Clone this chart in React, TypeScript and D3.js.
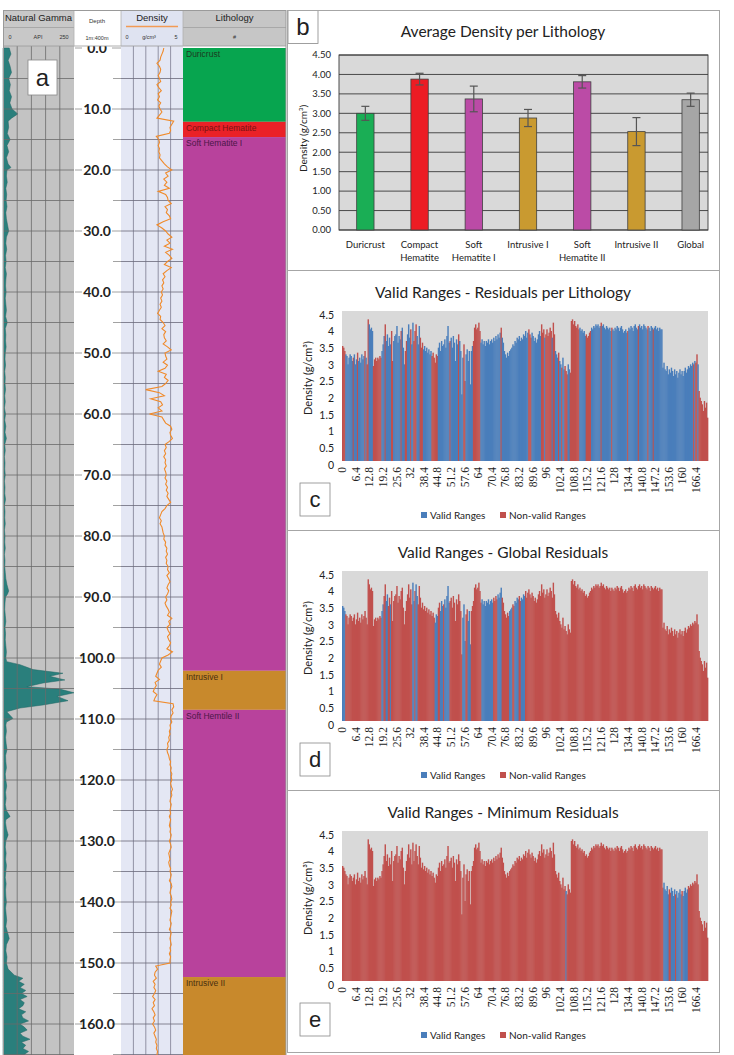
import React from "react";
import * as d3 from "d3";

const W = 734;
const H = 1055;

// ---------- Lithology ----------
const lithoNames = ["Duricrust", "Compact Hematite", "Soft Hematite I", "Intrusive I", "Soft Hemtile II", "Intrusive II"];
const lithoTop = [0, 12.1, 14.6, 102.1, 108.5, 152.3];
const lithoBase = [12.1, 14.6, 102.1, 108.5, 152.3, 166];
const lithoColors = ["#07a54f", "#ea2127", "#b8429c", "#c8892c", "#b8429c", "#c8892c"];
const lithoTextColors = ["#1d3b22", "#7a1212", "#4b1748", "#4a3010", "#4b1748", "#4a3010"];

// ---------- Density log, one value every 0.5 m from 0 m ----------
const densityStep = 0.5;
const densityValues = [
  3.45, 3.4, 3.3, 3.2, 3.15, 2.9, 3.1, 3.2, 3.15, 3.0,
  3.1, 3.2, 2.9, 3.05, 3.25, 3.0, 3.1, 2.95, 3.2, 3.05,
  3.15, 3.3, 3.1, 2.9, 4.25, 4.1, 3.95, 4.0, 3.9, 2.85,
  3.05, 3.1, 3.0, 3.1, 3.05, 3.15, 3.1, 3.3, 3.5, 3.75,
  4.1, 3.6, 3.8, 3.45, 3.7, 3.5, 3.9, 3.0, 3.6, 3.75,
  3.8, 4.05, 3.55, 3.75, 3.65, 3.9, 4.0, 3.4, 2.9, 3.3,
  3.6, 3.8, 4.1, 3.7, 3.95, 3.5, 4.15, 3.6, 3.9, 4.1,
  3.75, 3.5, 4.05, 3.7, 3.4, 3.55, 3.35, 3.45, 3.3, 3.4,
  3.25, 3.35, 3.2, 3.3, 3.15, 3.25, 3.1, 2.95, 3.2, 3.15,
  3.4, 3.55, 3.3, 3.6, 3.45, 3.5, 3.65, 3.4, 3.75, 4.05,
  3.55, 3.6, 3.7, 3.4, 3.75, 3.55, 3.0, 3.65, 3.5, 3.8,
  3.6, 3.3, 2.0, 3.1, 3.5, 2.4, 3.2, 3.35, 3.0, 3.3,
  2.3, 3.3, 3.45, 3.6, 4.0, 4.1, 3.95, 4.0, 4.15, 3.9,
  3.55, 3.65, 3.5, 3.6, 3.45, 3.6, 3.55, 3.65, 3.5, 3.6,
  3.65, 3.55, 3.7, 3.6, 3.75, 3.65, 3.8, 3.7, 3.85, 4.0,
  3.7, 3.55, 3.3, 3.2, 3.1, 3.25, 3.15, 3.3, 3.35, 3.4,
  3.5, 3.45, 3.6, 3.55, 3.7, 3.65, 3.75, 3.6, 3.7, 3.65,
  3.8, 3.75, 3.9, 3.7, 3.85, 3.95, 3.8, 3.7, 3.85, 3.75,
  3.6, 3.7, 3.55, 3.65, 3.8, 3.9, 3.75, 4.1, 3.85, 3.95,
  3.7, 3.8, 3.95, 3.75, 3.85, 4.0, 3.9, 3.7, 4.15, 3.8,
  3.3, 3.2, 3.1, 3.25, 3.0, 2.9, 2.8, 3.1, 2.75, 2.85,
  2.7, 2.6, 2.9, 2.75, 2.65, 4.2, 4.25, 4.1, 4.2, 4.05,
  4.0, 4.1, 3.95, 4.0, 3.9, 3.95, 3.85, 3.9, 3.75, 3.8,
  3.7, 3.75, 3.85, 3.9, 4.0, 3.95, 4.05, 4.0, 4.1, 4.05,
  4.1, 4.0, 4.05, 4.15, 4.05, 4.1, 4.0, 3.95, 4.05, 4.0,
  3.95, 4.0, 3.9, 4.0, 3.95, 3.9, 4.0, 3.95, 4.05, 4.0,
  3.9, 4.0, 4.05, 3.95, 3.85, 3.9, 3.95, 3.85, 3.9, 4.0,
  3.95, 4.05, 4.0, 3.9, 4.05, 4.1, 4.0, 3.95, 4.05, 4.1,
  4.0, 4.05, 3.95, 4.1, 4.05, 4.0, 3.95, 4.05, 4.0, 3.9,
  4.05, 4.0, 3.95, 4.0, 4.05, 3.95, 4.0, 3.9, 4.0, 3.95,
  3.95, 2.8, 2.95, 2.75, 2.7, 2.85, 2.6, 2.75, 2.65, 2.8,
  2.7, 2.55, 2.75, 2.6, 2.7, 2.5, 2.65, 2.75, 2.6, 2.7,
  2.55, 2.7, 2.8, 2.65, 2.75, 2.85, 2.8, 2.9, 2.85, 2.95,
  2.9, 3.0, 2.95, 3.2, 2.9, 2.1, 1.9, 1.8, 1.7, 1.5,
  1.8, 1.6, 1.75, 1.3,
];

// ---------- Natural gamma (depth m, API) ----------
const gammaDepth = [
  0, 1, 2, 3, 4, 5, 6, 7, 8, 9, 10, 10.8, 11.5, 12, 13, 14, 15, 16, 17, 18, 19, 19.6, 20,
  21, 22, 23, 24, 25, 26, 27, 28, 29, 30, 31, 32, 33, 34, 35, 36, 37, 38, 39, 40,
  41, 42, 43, 44, 45, 46, 47, 48, 49, 50, 51, 52, 53, 54, 55, 56, 57, 58, 59, 60,
  61, 62, 63, 64, 65, 66, 67, 68, 69, 70, 71, 72, 73, 74, 75, 76, 77, 78, 79, 80,
  81, 82, 83, 84, 85, 86, 87, 88, 89, 89.5, 90, 91, 92, 93, 94, 95, 96, 97, 98, 99, 100,
  100.6, 101.1, 101.9, 102.5, 103.0, 103.6, 104.1, 104.7, 105.1, 105.7, 106.3, 107.0, 107.7, 108.2, 108.8,
  109.9, 110.5, 111, 112, 113, 114, 115, 116, 117, 118, 119, 120, 121, 122, 123, 124, 125, 126, 126.5,
  127, 128, 129, 130, 131, 132, 133, 134, 135, 136, 137, 138, 139, 140, 141, 142, 143, 144, 145,
  146, 147, 148, 149, 150, 151, 152, 152.5, 153, 153.5, 154, 154.5, 155, 155.5, 156, 156.5, 157,
  157.5, 158, 158.5, 159, 159.5, 160, 160.5, 161, 161.5, 162, 162.5, 163, 163.5, 164, 164.5, 165, 166,
];
const gammaAPI = [
  22, 28, 18, 25, 30, 20, 26, 22, 30, 24, 32, 52, 30, 18, 20, 15, 25, 14, 20, 12, 18, 28, 14,
  12, 15, 10, 13, 11, 14, 10, 12, 16, 20, 12, 10, 13, 9, 11, 8, 12, 10, 9, 11,
  8, 10, 12, 9, 15, 8, 10, 9, 11, 8, 7, 9, 6, 8, 7, 9, 6, 8, 5, 9,
  6, 10, 7, 12, 6, 8, 5, 7, 6, 8, 5, 7, 6, 9, 5, 7, 6, 8, 5, 7,
  6, 8, 5, 7, 6, 8, 10, 14, 20, 16, 9, 7, 6, 8, 10, 7, 9, 8, 10, 12, 10,
  13, 60, 106, 211, 165, 218, 141, 84, 200, 250, 190, 229, 141, 60, 13,
  35, 12, 10, 12, 9, 11, 14, 9, 10, 12, 8, 10, 13, 9, 11, 8, 12, 25, 10,
  9, 12, 18, 10, 8, 11, 9, 12, 10, 8, 11, 9, 10, 12, 9, 11, 13, 10, 16,
  22, 12, 10, 14, 12, 18, 40, 70, 55, 75, 60, 80, 65, 85, 60, 75, 70,
  55, 80, 65, 70, 90, 60, 75, 85, 60, 70, 95, 65, 80, 70, 90, 75, 70,
];

// ---------- Panel b: average density per lithology ----------
const barCategories = [["Duricrust"], ["Compact", "Hematite"], ["Soft", "Hematite I"], ["Intrusive I"], ["Soft", "Hematite II"], ["Intrusive II"], ["Global"]];
const barValues = [3.0, 3.88, 3.37, 2.88, 3.81, 2.53, 3.35];
const barErrors = [0.18, 0.15, 0.33, 0.22, 0.16, 0.36, 0.17];
const barColors = ["#1aae55", "#ec1c24", "#bb4ba6", "#c99a30", "#bb4ba6", "#c99a30", "#a6a6a6"];
const barTicks = [0, 0.5, 1, 1.5, 2, 2.5, 3, 3.5, 4, 4.5];

// ---------- Panels c, d, e ----------
const xTickLabels = ["0", "6.4", "12.8", "19.2", "25.6", "32", "38.4", "44.8", "51.2", "57.6", "64", "70.4", "76.8", "83.2", "89.6", "96", "102.4", "108.8", "115.2", "121.6", "128", "134.4", "140.8", "147.2", "153.6", "160", "166.4"];
const residTicks = ["0", "0.5", "1", "1.5", "2", "2.5", "3", "3.5", "4", "4.5"];

// Panel c: depth intervals classified NON-valid (rest valid)
const cNonValid = [
  [0, 1.5], [5, 5.5], [7, 7.5], [10.5, 11], [11.5, 12.5], [14.5, 18.5], [20, 20.5], [23, 24], [27.5, 28],
  [29.5, 30.5], [32, 32.5], [33.5, 35], [36.5, 38], [42, 45], [50.5, 51], [54.5, 55], [57, 58],
  [61.5, 65], [74.5, 75], [87.5, 89], [93.5, 95], [95.5, 98.5], [99, 100], [101.5, 102], [103, 103.5],
  [104.5, 106], [107, 111.5], [114.5, 117], [121.5, 122], [126.5, 127], [134, 134.5], [139, 139.5],
  [143.5, 144], [146, 146.5], [165, 165.5], [166, 167], [167.5, 172],
];
// Panel d: depth intervals classified valid (rest non-valid)
const dValid = [
  [0, 1.5], [18.5, 19.5], [20.5, 21.5], [22.5, 23], [33, 34], [34.5, 35.5], [43.5, 45], [46, 47.5],
  [48, 50.5], [56.5, 58], [59, 60.5], [65.5, 71], [73, 75], [78.5, 80], [81, 83], [84, 86],
];
// Panel e: depth intervals classified valid (rest non-valid)
const eValid = [[105, 105.5], [151, 153.5], [154.5, 156.5], [157, 159.5], [160, 162.5]];

const BLUE = "#4a7ebb";
const RED = "#c0504d";
const SANS = "Lato, 'Open Sans', sans-serif";
const ARIAL = "'Liberation Sans', Arial, sans-serif";

const inIntervals = (d: number, iv: number[][]) => iv.some(([a, b]) => d >= a - 1e-9 && d < b - 1e-9);

// ---------- Well log panel a ----------
function WellLog() {
  const y = d3.scaleLinear().domain([0, 165]).range([48, 48 + 165 * 6.1]);
  const gx = d3.scaleLinear().domain([0, 250]).range([3, 74]);
  const dx = d3.scaleLinear().domain([0, 5]).range([121, 183]);
  const gammaPts = gammaDepth.map((d, i) => [d, gammaAPI[i]] as [number, number]);
  const gammaArea = d3.area<[number, number]>().x0(gx(0)).x1((p) => gx(p[1])).y((p) => y(p[0]))(gammaPts) || "";
  const densPts = densityValues.map((v, i) => [i * densityStep, v] as [number, number]).filter((p) => p[0] <= 167);
  const densLine = d3.line<[number, number]>().x((p) => dx(p[1])).y((p) => y(p[0]))(densPts) || "";
  const grid5 = d3.range(5, 170, 5);
  const labels10 = d3.range(0, 170, 10);
  const gammaV = [50, 100, 150, 200];
  const densV = [1, 2, 3, 4];
  return (
    <g>
      <defs>
        <clipPath id="logclip">
          <rect x={0} y={46} width={290} height={H - 46} />
        </clipPath>
      </defs>
      <g clipPath="url(#logclip)">
        <rect x={3} y={46} width={71} height={H - 46} fill="#c3c3c3" />
        <path d={gammaArea} fill="#2a7f7c" stroke="#1f6664" strokeWidth={0.5} />
        {gammaV.map((v) => (
          <line key={"gv" + v} x1={gx(v)} x2={gx(v)} y1={46} y2={H} stroke="#6a6a6a" strokeWidth={0.8} />
        ))}
        {grid5.map((d) => (
          <line key={"gh" + d} x1={3} x2={74} y1={y(d)} y2={y(d)} stroke="#6a6a6a" strokeWidth={0.8} />
        ))}
        <rect x={74} y={46} width={47} height={H - 46} fill="#ffffff" />
        {grid5.map((d) =>
          d % 10 === 0 ? null : <line key={"dt" + d} x1={113} x2={121} y1={y(d)} y2={y(d)} stroke="#8a8a8a" strokeWidth={0.8} />
        )}
        {labels10.map((d) => (
          <g key={"dl" + d}>
            <line x1={75} x2={121} y1={y(d)} y2={y(d)} stroke="#8a8a8a" strokeWidth={0.8} />
            <rect x={82} y={y(d) - 8} width={30} height={16} fill="#ffffff" />
            <text x={97} y={y(d)} dy="0.36em" textAnchor="middle" fontFamily={SANS} fontWeight={700} fontSize={14} fill="#222">
              {d.toFixed(1)}
            </text>
          </g>
        ))}
        <rect x={121} y={46} width={62} height={H - 46} fill="#e4e7f4" />
        {densV.map((v) => (
          <line key={"dv" + v} x1={dx(v)} x2={dx(v)} y1={46} y2={H} stroke="#7c7c90" strokeWidth={0.8} />
        ))}
        {grid5.map((d) => (
          <line key={"dh" + d} x1={121} x2={183} y1={y(d)} y2={y(d)} stroke="#6a6a7a" strokeWidth={0.8} />
        ))}
        <path d={densLine} fill="none" stroke="#f08a2a" strokeWidth={1.1} />
        {lithoNames.map((n, i) => (
          <g key={"li" + i}>
            <rect x={183} y={y(lithoTop[i])} width={103} height={y(lithoBase[i]) - y(lithoTop[i])} fill={lithoColors[i]} />
            <text x={186} y={y(lithoTop[i]) + 9} fontFamily={ARIAL} fontSize={8.5} fill={lithoTextColors[i]}>
              {n}
            </text>
          </g>
        ))}
      </g>
      <rect x={3} y={10} width={71} height={36} fill="#c8c8c8" />
      <rect x={74} y={10} width={47} height={36} fill="#ffffff" />
      <rect x={121} y={10} width={62} height={36} fill="#dfe3f1" />
      <rect x={183} y={10} width={103} height={36} fill="#c6c6c6" />
      <line x1={3} x2={74} y1={27.5} y2={27.5} stroke="#a8a8a8" />
      <line x1={183} x2={286} y1={27.5} y2={27.5} stroke="#a8a8a8" />
      <line x1={126} x2={178} y1={26.5} y2={26.5} stroke="#f29a55" strokeWidth={1.5} />
      <text x={38.5} y={21} textAnchor="middle" fontFamily={ARIAL} fontSize={9.5} fill="#222">Natural Gamma</text>
      <text x={10} y={39} textAnchor="middle" fontFamily={ARIAL} fontSize={5.5} fill="#333">0</text>
      <text x={38} y={39} textAnchor="middle" fontFamily={ARIAL} fontSize={5.5} fill="#333">API</text>
      <text x={64} y={39} textAnchor="middle" fontFamily={ARIAL} fontSize={5.5} fill="#333">250</text>
      <text x={97} y={23} textAnchor="middle" fontFamily={ARIAL} fontSize={6} fill="#333">Depth</text>
      <text x={97} y={40} textAnchor="middle" fontFamily={ARIAL} fontSize={5.5} fill="#333">1m:400m</text>
      <text x={152} y={21} textAnchor="middle" fontFamily={ARIAL} fontSize={9.5} fill="#222">Density</text>
      <text x={127} y={39} textAnchor="middle" fontFamily={ARIAL} fontSize={5.5} fill="#333">0</text>
      <text x={149} y={39} textAnchor="middle" fontFamily={ARIAL} fontSize={5.5} fill="#333">g/cm³</text>
      <text x={176} y={39} textAnchor="middle" fontFamily={ARIAL} fontSize={5.5} fill="#333">5</text>
      <text x={234.5} y={21} textAnchor="middle" fontFamily={ARIAL} fontSize={9.5} fill="#222">Lithology</text>
      <text x={234.5} y={39} textAnchor="middle" fontFamily={ARIAL} fontSize={5.5} fill="#333">#</text>
      <line x1={3} x2={286} y1={46} y2={46} stroke="#9a9a9a" strokeWidth={0.8} />
      {[74, 121, 183].map((x) => (
        <line key={"hx" + x} x1={x} x2={x} y1={10} y2={46} stroke="#b0b0b0" strokeWidth={0.8} />
      ))}
      <rect x={3.5} y={10.5} width={282.5} height={H - 10} fill="none" stroke="#9a9a9a" />
      <rect x={28} y={60} width={29} height={35} fill="#ffffff" stroke="#888" strokeWidth={0.8} />
      <text x={42.5} y={78} dy="0.35em" textAnchor="middle" fontFamily={ARIAL} fontSize={24} fill="#222">a</text>
    </g>
  );
}

// ---------- Panel b ----------
function BarPanel() {
  const top = 10;
  const plotTop = 55, plotBottom = 230, plotLeft = 339, plotRight = 708;
  const y = d3.scaleLinear().domain([0, 4.5]).range([plotBottom, plotTop]);
  const x = d3.scaleBand<number>().domain(d3.range(barValues.length)).range([348, 708]).paddingInner(0.68).paddingOuter(0.16);
  return (
    <g>
      <text x={503} y={top + 22} dy="0.35em" textAnchor="middle" fontFamily={SANS} fontSize={15.5} fill="#222">Average Density per Lithology</text>
      <rect x={plotLeft} y={plotTop} width={plotRight - plotLeft} height={plotBottom - plotTop} fill="#d9d9d9" />
      {barTicks.map((t) => (
        <g key={"bt" + t}>
          <line x1={plotLeft} x2={plotRight} y1={y(t)} y2={y(t)} stroke="#3a3a3a" strokeWidth={0.9} />
          <text x={331} y={y(t)} dy="0.35em" textAnchor="end" fontFamily={SANS} fontSize={9.5} fill="#222">{t.toFixed(2)}</text>
        </g>
      ))}
      <rect x={plotLeft} y={plotTop} width={plotRight - plotLeft} height={plotBottom - plotTop} fill="none" stroke="#3a3a3a" strokeWidth={0.9} />
      {barValues.map((v, i) => {
        const bx = x(i) as number;
        const bw = x.bandwidth();
        const cx = bx + bw / 2;
        return (
          <g key={"bar" + i}>
            <rect x={bx} y={y(v)} width={bw} height={plotBottom - y(v)} fill={barColors[i]} stroke="#404040" strokeWidth={0.8} />
            <line x1={cx} x2={cx} y1={y(v + barErrors[i])} y2={y(v - barErrors[i])} stroke="#555" strokeWidth={1.2} />
            <line x1={cx - 4} x2={cx + 4} y1={y(v + barErrors[i])} y2={y(v + barErrors[i])} stroke="#555" strokeWidth={1.2} />
            <line x1={cx - 4} x2={cx + 4} y1={y(v - barErrors[i])} y2={y(v - barErrors[i])} stroke="#555" strokeWidth={1.2} />
            {barCategories[i].map((s, k) => (
              <text key={k} x={cx} y={245 + k * 13} dy="0.35em" textAnchor="middle" fontFamily={SANS} fontSize={9.5} fill="#222">{s}</text>
            ))}
          </g>
        );
      })}
      <text transform={`translate(303,${(plotTop + plotBottom) / 2 - 4}) rotate(-90)`} textAnchor="middle" dy="0.35em" fontFamily={SANS} fontSize={10} fill="#222">
        Density (g/cm³)
      </text>
      <rect x={288} y={10.5} width={30} height={33} fill="#ffffff" stroke="#888" strokeWidth={0.8} />
      <text x={303} y={27} dy="0.35em" textAnchor="middle" fontFamily={ARIAL} fontSize={24} fill="#222">b</text>
    </g>
  );
}

// ---------- Panels c, d, e ----------
function ResidualPanel({ top, title, letter, mode, intervals }: { top: number; title: string; letter: string; mode: "nonvalid" | "valid"; intervals: number[][] }) {
  const plotTop = top + 41, plotBottom = top + 191, plotLeft = 342, plotRight = 708;
  const x = d3.scaleLinear().domain([0, 172]).range([plotLeft, plotRight]);
  const y = d3.scaleLinear().domain([0, 4.5]).range([plotBottom, plotTop]);
  const isValid = (d: number) => (mode === "nonvalid" ? !inIntervals(d, intervals) : inIntervals(d, intervals));
  return (
    <g>
      <text x={503} y={top + 23} dy="0.35em" textAnchor="middle" fontFamily={SANS} fontSize={15.5} fill="#222">{title}</text>
      <rect x={plotLeft} y={plotTop} width={plotRight - plotLeft} height={plotBottom - plotTop} fill="#d9d9d9" />
      {densityValues.map((v, i) => {
        const d0 = i * densityStep;
        const x0 = x(d0);
        const x1 = Math.min(x(d0 + densityStep), plotRight);
        if (x0 >= plotRight) return null;
        return <rect key={i} x={x0} y={y(v)} width={x1 - x0 + 0.35} height={plotBottom - y(v)} fill={isValid(d0) ? BLUE : RED} />;
      })}
      {residTicks.map((t) => (
        <text key={"yt" + t} x={334} y={y(+t) + 4} dy="0.35em" textAnchor="end" fontFamily={SANS} fontSize={10.5} fill="#222">{t}</text>
      ))}
      {xTickLabels.map((t) => (
        <text key={"xt" + t} transform={`translate(${x(+t)},${plotBottom + 6}) rotate(-90)`} textAnchor="end" dy="0.35em" fontFamily="'Liberation Serif', serif" fontSize={11.5} fill="#222">
          {t}
        </text>
      ))}
      <text transform={`translate(308,${top + 108}) rotate(-90)`} textAnchor="middle" dy="0.35em" fontFamily={SANS} fontSize={11} fill="#222">
        Density (g/cm³)
      </text>
      <rect x={300} y={top + 213} width={30} height={33} fill="#ffffff" stroke="#888" strokeWidth={0.8} />
      <text x={315} y={top + 229.5} dy="0.35em" textAnchor="middle" fontFamily={ARIAL} fontSize={22} fill="#222">{letter}</text>
      <rect x={421} y={top + 242} width={6} height={6} fill={BLUE} />
      <text x={430} y={top + 245} dy="0.35em" fontFamily={SANS} fontSize={10} fill="#222">Valid Ranges</text>
      <rect x={500} y={top + 242} width={6} height={6} fill={RED} />
      <text x={509} y={top + 245} dy="0.35em" fontFamily={SANS} fontSize={10} fill="#222">Non-valid Ranges</text>
    </g>
  );
}

export default function App() {
  return (
    <svg width={W} height={H} viewBox={`0 0 ${W} ${H}`} style={{ position: "absolute", left: 0, top: 0, background: "#fff" }}>
      <rect x={0} y={0} width={W} height={H} fill="#ffffff" />
      <WellLog />
      <BarPanel />
      <ResidualPanel top={270} title="Valid Ranges - Residuals per Lithology" letter="c" mode="nonvalid" intervals={cNonValid} />
      <ResidualPanel top={530} title="Valid Ranges - Global Residuals" letter="d" mode="valid" intervals={dValid} />
      <ResidualPanel top={790} title="Valid Ranges - Minimum Residuals" letter="e" mode="valid" intervals={eValid} />
      <rect x={287.5} y={10.5} width={432} height={1042} fill="none" stroke="#a6a6a6" />
      {[270, 530, 790].map((yy) => (
        <line key={"sep" + yy} x1={287.5} x2={719.5} y1={yy + 0.5} y2={yy + 0.5} stroke="#a6a6a6" />
      ))}
    </svg>
  );
}
